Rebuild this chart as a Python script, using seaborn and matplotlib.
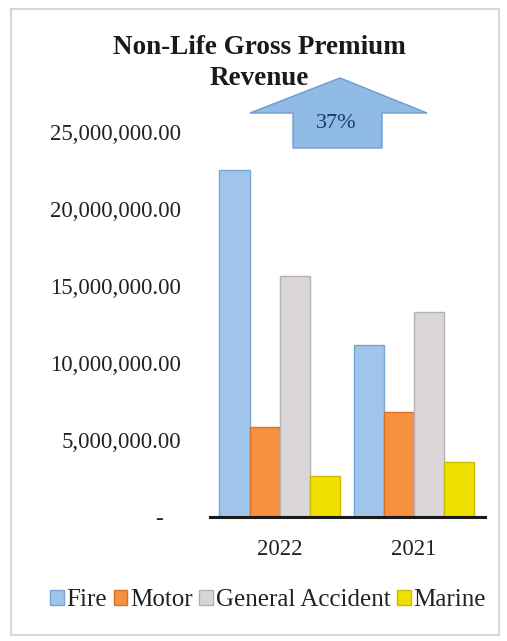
import matplotlib
matplotlib.use("Agg")
import matplotlib.pyplot as plt
from matplotlib.patches import Patch, Polygon, Rectangle
import numpy as np
import pandas as pd
import seaborn as sns

# Gross premium revenue by class of business (currency units)
years = ["2022", "2021"]
classes = ["Fire", "Motor", "General Accident", "Marine"]
fire = [22_500_000, 11_200_000]
motor = [5_850_000, 6_800_000]
general_accident = [15_650_000, 13_300_000]
marine = [2_650_000, 3_600_000]
growth_label = "37%"

y_ticks = [0, 5_000_000, 10_000_000, 15_000_000, 20_000_000, 25_000_000]
y_tick_labels = ["-   ", "5,000,000.00", "10,000,000.00", "15,000,000.00",
                 "20,000,000.00", "25,000,000.00"]

colors = ["#9fc6ea", "#f7913f", "#dad5d8", "#f0e000"]
edges = ["#7aa6d2", "#d8722a", "#b5aeb2", "#c9bb00"]

sns.set_theme(style="white")
plt.rcParams["font.family"] = ["Liberation Serif", "DejaVu Serif"]

df = pd.DataFrame({
    "Year": years * 4,
    "Class": [c for c in classes for _ in years],
    "Premium": fire + motor + general_accident + marine,
})

W, H = 507, 641
fig = plt.figure(figsize=(W / 100, H / 100), dpi=100)
fig.patch.set_facecolor("white")


def fx(px):
    return px / W


def fy(py):
    return 1 - py / H


ax = fig.add_axes([fx(210), fy(517), (485 - 210) / W, (517 - 132) / H])
sns.barplot(data=df, x="Year", y="Premium", hue="Class", order=years,
            hue_order=classes, palette=colors, width=0.9, ax=ax,
            legend=False, saturation=1, errorbar=None)

for container, ec in zip(ax.containers, edges):
    for bar in container:
        bar.set_edgecolor(ec)
        bar.set_linewidth(1.0)

ax.set_ylim(0, 25_000_000)
ax.set_xlim(-0.52, 1.53)
ax.set_yticks(y_ticks)
ax.set_yticklabels(y_tick_labels, fontsize=16.5, color="#222222")
ax.tick_params(axis="y", length=0, pad=21)
ax.tick_params(axis="x", length=0, pad=16, labelsize=16.5, labelcolor="#222222")
ax.set_xlabel("")
ax.set_ylabel("")
for side in ["top", "right", "left"]:
    ax.spines[side].set_visible(False)
ax.spines["bottom"].set_color("#1a1a1a")
ax.spines["bottom"].set_linewidth(2.2)
ax.set_facecolor("none")

# Title
fig.text(fx(259), fy(63), "Non-Life Gross Premium\nRevenue", ha="center",
         va="center", fontsize=19.5, fontweight="bold", color="#1a1a1a",
         linespacing=1.3)

# Block arrow showing the year-on-year growth
arrow_px = [(340, 78), (427, 113), (382, 113), (382, 148),
            (293, 148), (293, 113), (250, 113)]
arrow = Polygon([(fx(x), fy(y)) for x, y in arrow_px], closed=True,
                transform=fig.transFigure, facecolor="#8fbbe6",
                edgecolor="#6d9bcc", linewidth=1.0)
fig.patches.append(arrow)
fig.text(fx(336), fy(124), growth_label, ha="center", va="center",
         fontsize=16, color="#1f3a66")

# Legend along the bottom
handles = [Patch(facecolor=c, edgecolor=e, linewidth=1.0)
           for c, e in zip(colors, edges)]
fig.legend(handles, classes, loc="center", bbox_to_anchor=(fx(268), fy(600)),
           ncol=4, frameon=False, fontsize=18, handlelength=0.55,
           handleheight=0.55, handletextpad=0.12, columnspacing=0.25,
           labelcolor="#222222")

# Light outer frame
frame = Rectangle((fx(11), fy(635)), fx(499 - 11), (635 - 9) / H,
                  transform=fig.transFigure, fill=False,
                  edgecolor="#d6d6d6", linewidth=1.5)
fig.patches.append(frame)

fig.savefig("out.png", dpi=100, facecolor="white")
